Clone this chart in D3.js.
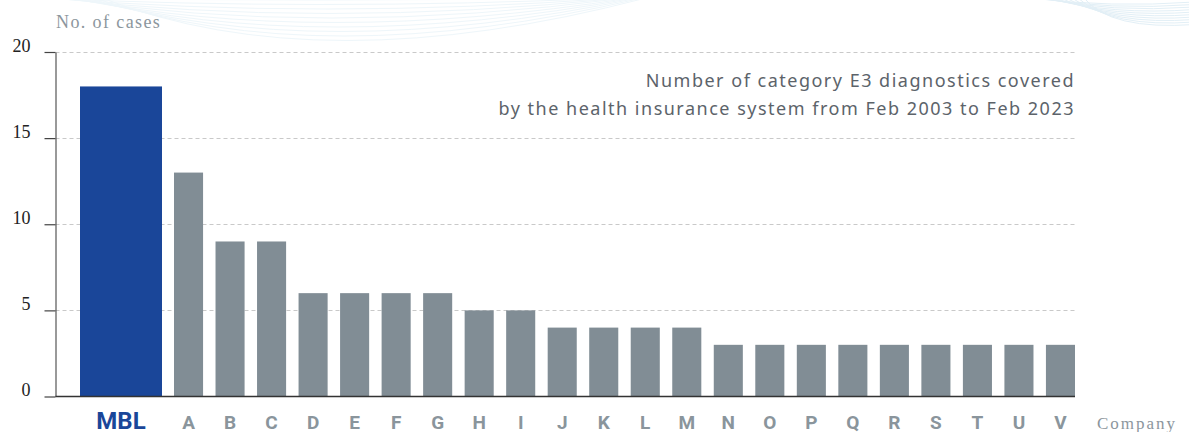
<!DOCTYPE html>
<html>
<head>
<meta charset="utf-8">
<script src="https://cdn.jsdelivr.net/npm/d3@7"></script>
<style>
  body { margin: 0; background: #fff; }
  svg { display: block; }
</style>
</head>
<body>
<div id="chart"></div>
<script>
// Number of category E3 diagnostics per company (Feb 2003 - Feb 2023)
const leader = "MBL";
const leaderValue = 18;
const companies = ["A","B","C","D","E","F","G","H","I","J","K","L","M","N","O","P","Q","R","S","T","U","V"];
const cases = [13,9,9,6,6,6,6,5,5,4,4,4,4,3,3,3,3,3,3,3,3,3];
const yTicks = [0,5,10,15,20];
const titleLines = [
    "Number of category E3 diagnostics covered",
    "by the health insurance system from Feb 2003 to Feb 2023"
];

document.addEventListener("DOMContentLoaded", function() {

    const W = 1189, H = 432;
    const left = 55.5, right = 1075, top = 52, bottom = 396.5;

    const svg = d3.select("#chart")
        .append("svg")
        .attr("width", W)
        .attr("height", H);

    // faint decorative swooshes at the top
    const deco = svg.append("g")
        .attr("fill", "none")
        .attr("stroke-width", 1);
    d3.range(10).forEach(i => {
        deco.append("path")
            .attr("stroke", "#eef6fa")
            .attr("d", `M${30 + i * 8},-2 Q${320},${2 + i * 9} ${610 + i * 4},-2`);
        deco.append("path")
            .attr("stroke", "#e2eff6")
            .attr("d", `M${1030 + i * 6},-2 Q${1110},${8 + i * 2.5} ${1195},${2 + i * 2.5}`);
    });

    const y = d3.scaleLinear()
        .domain([0, 20])
        .range([bottom, top]);

    const xLead = d3.scaleBand()
        .domain([leader])
        .range([80, 162]);

    const x = d3.scaleBand()
        .domain(companies)
        .range([174, right])
        .paddingInner(0.3)
        .paddingOuter(0);

    // gridlines
    svg.append("g")
        .selectAll("line")
        .data(yTicks.filter(d => d > 0))
        .enter().append("line")
        .attr("x1", left)
        .attr("x2", right)
        .attr("y1", d => Math.round(y(d)) + 0.5)
        .attr("y2", d => Math.round(y(d)) + 0.5)
        .attr("stroke", "#c9c9c9")
        .attr("stroke-dasharray", "4,3");

    // bars
    svg.append("rect")
        .attr("x", xLead(leader))
        .attr("y", y(leaderValue))
        .attr("width", xLead.bandwidth())
        .attr("height", y(0) - y(leaderValue))
        .attr("fill", "#1a4699");

    svg.append("g")
        .selectAll("rect")
        .data(companies)
        .enter().append("rect")
        .attr("x", d => x(d))
        .attr("y", (d, i) => y(cases[i]))
        .attr("width", x.bandwidth())
        .attr("height", (d, i) => y(0) - y(cases[i]))
        .attr("fill", "#818d95");

    // y axis
    const yAxis = svg.append("g")
        .attr("transform", `translate(${left},0)`)
        .call(d3.axisLeft(y).tickValues(yTicks).tickSize(11).tickPadding(14).tickSizeOuter(0));
    yAxis.select(".domain").attr("stroke", "#555").attr("stroke-width", 1.2);
    yAxis.selectAll(".tick line").attr("stroke", "#444").attr("stroke-width", 1.2);
    yAxis.selectAll(".tick text")
        .attr("font-family", "'Liberation Serif', 'DejaVu Serif', serif")
        .attr("font-size", 18)
        .attr("fill", "#222")
        .attr("dy", "-0.05em");

    // baseline
    svg.append("line")
        .attr("x1", left)
        .attr("x2", right)
        .attr("y1", y(0))
        .attr("y2", y(0))
        .attr("stroke", "#333")
        .attr("stroke-width", 1.6);

    // x labels
    svg.append("text")
        .attr("x", xLead(leader) + xLead.bandwidth() / 2)
        .attr("y", 429)
        .attr("text-anchor", "middle")
        .attr("font-family", "Roboto, sans-serif")
        .attr("font-weight", 700)
        .attr("font-size", 24)
        .attr("fill", "#1a4699")
        .text(leader);

    svg.append("g")
        .selectAll("text")
        .data(companies)
        .enter().append("text")
        .attr("x", d => x(d) + x.bandwidth() / 2)
        .attr("y", 429)
        .attr("text-anchor", "middle")
        .attr("font-family", "Roboto, sans-serif")
        .attr("font-weight", 700)
        .attr("font-size", 19)
        .attr("fill", "#8a959c")
        .text(d => d);

    // axis titles
    svg.append("text")
        .attr("x", 56)
        .attr("y", 28)
        .attr("font-family", "'Liberation Serif', serif")
        .attr("font-size", 18)
        .attr("letter-spacing", 1.4)
        .attr("fill", "#8c969d")
        .text("No. of cases");

    svg.append("text")
        .attr("x", 1097)
        .attr("y", 429)
        .attr("font-family", "'Liberation Serif', serif")
        .attr("font-size", 17)
        .attr("letter-spacing", 2)
        .attr("fill", "#8c969d")
        .text("Company");

    // chart caption
    svg.append("g")
        .selectAll("text")
        .data(titleLines)
        .enter().append("text")
        .attr("x", right)
        .attr("y", (d, i) => 86.5 + i * 28)
        .attr("text-anchor", "end")
        .attr("font-family", "'Noto Sans', sans-serif")
        .attr("font-size", 18)
        .attr("letter-spacing", 1.5)
        .attr("fill", "#5c636a")
        .text(d => d);
});
</script>
</body>
</html>
